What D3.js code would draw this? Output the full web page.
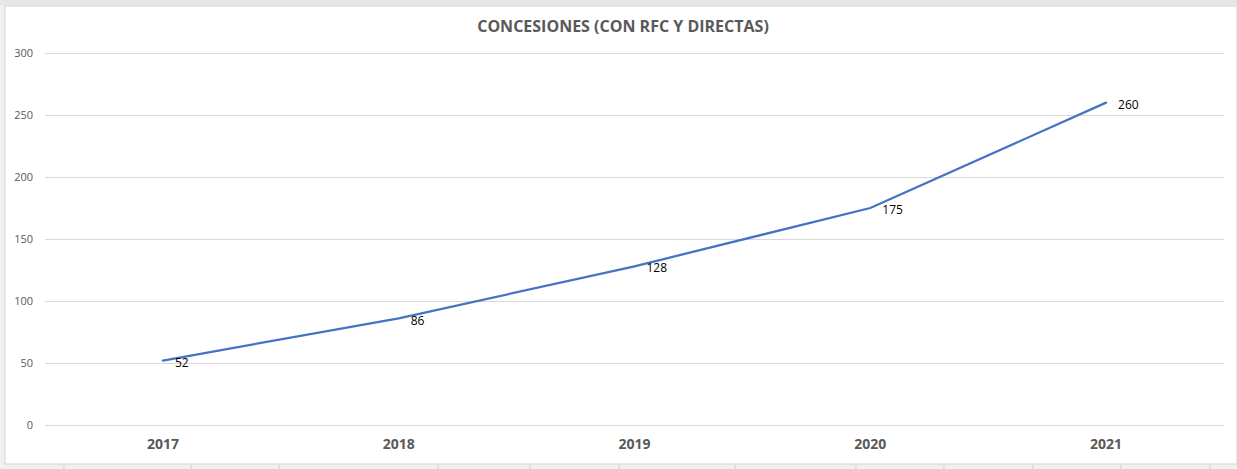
<!DOCTYPE html>
<html>
<head>
<meta charset="utf-8">
<script src="https://cdn.jsdelivr.net/npm/d3@7"></script>
<style>
  body { margin: 0; background: #ededed; }
  svg { display: block; }
</style>
</head>
<body>
<div id="chart"></div>
<script>
// chart data
var years = ["2017", "2018", "2019", "2020", "2021"];
var concesiones = [52, 86, 128, 175, 260];
var yTicks = [0, 50, 100, 150, 200, 250, 300];
var chartTitle = "CONCESIONES (CON RFC Y DIRECTAS)";
// spreadsheet cell borders visible under the chart
var cellEdges = [64, 191, 279, 438, 530, 619, 735, 856, 944, 1033, 1121, 1210];

var W = 1237, H = 469;
var margin = { top: 53, right: 13, bottom: 44, left: 45 };
var width = W - margin.left - margin.right,
  height = H - margin.top - margin.bottom;

var svg = d3.select("#chart").append("svg")
  .attr("width", W)
  .attr("height", H);

// outer frame (screenshot of a spreadsheet)
svg.append("rect").attr("x", 0).attr("y", 0).attr("width", W).attr("height", H).attr("fill", "#f0f0f0");
svg.append("rect").attr("x", 0).attr("y", 0).attr("width", W).attr("height", 5).attr("fill", "#e6e6e6");
svg.append("rect").attr("x", 5).attr("y", 6).attr("width", W - 5).attr("height", 458)
  .attr("fill", "#ffffff").attr("stroke", "#d4d4d4").attr("stroke-width", 1);

svg.selectAll(".cell")
  .data(cellEdges)
  .enter()
  .append("line")
  .attr("class", "cell")
  .attr("x1", function(d) { return d; })
  .attr("x2", function(d) { return d; })
  .attr("y1", 465)
  .attr("y2", H)
  .attr("stroke", "#cfcfcf");

var g = svg.append("g")
  .attr("transform", "translate(" + margin.left + "," + margin.top + ")");

var x = d3.scaleBand().domain(years).range([0, width]);
var y = d3.scaleLinear().domain([0, 300]).range([height, 0]);

// gridlines + y labels
var yAxis = d3.axisLeft(y).tickValues(yTicks).tickSize(-width).tickPadding(12);
g.append("g")
  .attr("class", "y-axis")
  .call(yAxis)
  .call(function(s) {
    s.select(".domain").remove();
    s.selectAll(".tick line").attr("stroke", "#d9d9d9").attr("stroke-width", 1);
    s.selectAll(".tick text")
      .attr("fill", "#595959")
      .style("font-family", "'Open Sans', sans-serif")
      .style("font-size", "11px");
  });

// x labels
var xAxis = d3.axisBottom(x).tickSize(0).tickPadding(14);
g.append("g")
  .attr("class", "x-axis")
  .attr("transform", "translate(0," + height + ")")
  .call(xAxis)
  .call(function(s) {
    s.select(".domain").remove();
    s.selectAll(".tick text")
      .attr("fill", "#595959")
      .style("font-family", "'Open Sans', sans-serif")
      .style("font-weight", "bold")
      .style("font-size", "14px");
  });

var cx = function(i) { return x(years[i]) + x.bandwidth() / 2; };

var line = d3.line()
  .x(function(d, i) { return cx(i); })
  .y(function(d) { return y(d); });

g.append("path")
  .datum(concesiones)
  .attr("d", line)
  .attr("fill", "none")
  .attr("stroke", "#4472c4")
  .attr("stroke-width", 2.25)
  .attr("stroke-linecap", "round");

g.selectAll(".dataLabel")
  .data(concesiones)
  .enter()
  .append("text")
  .attr("class", "dataLabel")
  .attr("x", function(d, i) { return cx(i) + 12; })
  .attr("y", function(d) { return y(d) + 2; })
  .attr("dy", "0.35em")
  .attr("fill", "#000000")
  .style("font-family", "'Open Sans', sans-serif")
  .style("font-size", "12px")
  .text(function(d) { return d; });

// title
svg.append("text")
  .attr("x", 623)
  .attr("y", 26)
  .attr("dy", "0.35em")
  .attr("text-anchor", "middle")
  .attr("fill", "#595959")
  .style("font-family", "'Open Sans', sans-serif")
  .style("font-weight", "bold")
  .style("font-size", "16px")
  .text(chartTitle);
</script>
</body>
</html>
